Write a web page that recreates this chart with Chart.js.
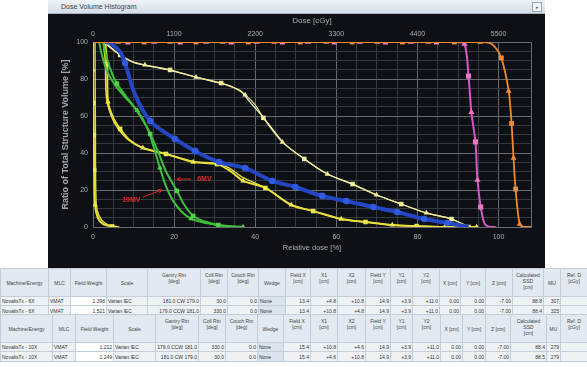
<!DOCTYPE html>
<html>
<head>
<meta charset="utf-8">
<script src="https://cdn.jsdelivr.net/npm/chart.js@4.4.1/dist/chart.umd.min.js"></script>
<style>
body{margin:0;width:587px;height:367px;background:#fff;position:relative;overflow:hidden;font-family:"Liberation Sans",Arial,sans-serif}
#win{position:absolute;left:48px;top:0;width:497px;height:268px;background:#0d1115}
#bar{position:absolute;left:0;top:0;width:497px;height:14px;background:linear-gradient(#eef3f7,#d4dee7);border-bottom:1px solid #a8b5c1;box-sizing:border-box;font-size:7px;color:#3a4550;line-height:13px;padding-left:13px}
#btn{position:absolute;right:3px;top:2px;width:8px;height:8px;border:1px solid #98a5b1;background:#f3f6f9;font-size:5px;line-height:8px;text-align:center;color:#56606a}
#cv{position:absolute;left:0;top:14px}
table{position:absolute;left:0;border-collapse:collapse;table-layout:fixed;font-size:5px;color:#333;width:587px}
td{border:1px solid #c3ced8;padding:0 1px;overflow:hidden;white-space:nowrap;background:#eef2f5}
td.h{background:#e2e9f0;text-align:center;vertical-align:middle;color:#444;line-height:6px}
td.h.m{vertical-align:top;padding-top:3px}
td.r{text-align:right}
td.w{background:#fff}
td.g{background:#d9e4ee}
</style>
</head>
<body>
<div id="win">
  <div id="bar">Dose Volume Histogram<div id="btn">&#9656;</div></div>
  <canvas id="cv" width="497" height="254"></canvas>
</div>
<table id="t1" style="top:268px"></table>
<table id="t2" style="top:314px"></table>
<script>
// DVH curves: x = relative dose [%], y = volume [%], marks: s square, t triangle, c circle
const orangeX = [0, 6.2, 12.6, 19, 25.4, 31.9, 38.3, 44.7, 51.1, 57.5, 63.9, 70.1, 76.3, 82.7, 89.1, 95.5, 97.8, 99.2, 100.7, 102.5, 103.2, 103.7, 104.2, 105.2, 106.2, 108];
const orangeY = [100, 100, 100, 100, 100, 100, 100, 100, 100, 100, 100, 100, 100, 100, 100, 100, 99.5, 97, 91.4, 73.5, 56, 37.3, 20.5, 1.6, 0, 0];
const orangeM = ['', 't', 's', 't', 's', 't', 's', 't', 's', 't', 's', 't', 's', 't', 's', 't', '', '', 's', 't', 's', 't', 's', 't', '', ''];

const magentaX = [0, 8.6, 15.1, 21.5, 27.9, 34.1, 40.4, 46.7, 53, 59.5, 65.8, 72.1, 78.4, 84.7, 89.5, 91.6, 92.6, 93.3, 94.3, 94.8, 95.6, 96.5, 97.5, 99.3];
const magentaY = [100, 100, 100, 100, 100, 100, 100, 100, 100, 100, 100, 100, 100, 100, 100, 99, 81.6, 62, 46, 25.4, 10.8, 2, 0.3, 0];
const magentaM = ['', 's', 't', 's', 't', 's', 't', 's', 't', 's', 't', 's', 't', 's', '', 't', 's', 't', 's', 't', 's', '', '', ''];

const blueX = [3, 4.2, 6.7, 7.9, 10.4, 14.1, 20.2, 25.2, 31.1, 37.5, 44.2, 49.9, 56.5, 62.5, 69.1, 75, 81.7, 87.4, 92.6];
const blueY = [100, 99.5, 94.6, 88.6, 71.4, 57.3, 47.6, 41, 35.1, 31.9, 24.9, 21.6, 16.8, 14, 10.8, 8.1, 4.3, 2.2, 0];
const blueM = ['', '', '', 'c', '', 'c', 'c', 'c', 'c', 'c', 'c', 'c', 'c', 'c', 'c', 'c', 'c', 'c', ''];

const green6X = [2.5, 3.2, 4.5, 5.9, 8, 10.4, 12.5, 14.1, 16, 18, 20.7, 22.5, 24.7, 27.5, 30.9, 34, 37];
const green6Y = [100, 93, 84, 77.5, 71, 64, 57, 50.3, 41, 30, 19.5, 12, 6, 3, 1.1, 0.4, 0];
const green6M = ['', '', '', 's', '', '', '', 's', '', '', 's', '', 's', '', 's', '', ''];

const green10X = [1.5, 2.2, 3.5, 5.5, 8, 10.9, 13.5, 15, 16.5, 18, 19.8, 22, 24.2, 27, 30.9, 34, 37];
const green10Y = [100, 93, 84, 76.5, 70, 63, 53, 43, 31.9, 22, 14, 8, 4.5, 2.5, 1, 0.3, 0];
const green10M = ['', '', '', '', '', 't', '', '', 't', '', '', '', 't', '', '', '', 't'];

const yellowBX = [2.5, 4.5, 6.7, 9.5, 12.8, 19, 25.4, 31.6, 35, 37.5, 40, 42, 46.7, 52.1, 57.8, 64, 69.9, 76, 82.2, 88.4, 92.6];
const yellowBY = [100, 96.5, 93, 89.5, 87.6, 84.9, 81, 77.8, 75, 71.4, 66, 59, 45.9, 36.8, 28.6, 23.2, 17.3, 12.4, 7.6, 4.3, 0];
const yellowBM = ['', '', 's', '', 't', 's', 't', 's', '', 't', '', 's', 't', 's', 't', 's', 't', 's', 't', 's', ''];

const yellowB2X = [3, 5, 7, 10, 13, 19, 25.4, 31.6, 34, 36.5, 38.3, 40.5, 42.3, 47, 52.1, 57.8, 64, 70, 76, 82.2, 88.4, 92.6];
const yellowB2Y = [100, 96, 92.6, 89, 87.4, 84.7, 81, 77.6, 76, 73.5, 68.6, 63, 58.5, 45.5, 36.8, 28.6, 23.2, 17.3, 12.4, 7.6, 4.3, 0];

const yellowCX = [3, 3.5, 3.7, 5, 6.7, 9, 12.3, 18, 24.7, 30.6, 34, 37, 42.5, 48.9, 54.3, 61.2, 67.2, 73.8, 79.8, 86.7, 92.6, 94.6];
const yellowCY = [100, 88, 67.6, 59, 53, 47, 42.7, 39.5, 35.1, 34, 30, 24.9, 21.1, 11.9, 8.6, 4.3, 2.7, 1.1, 0.5, 0, 0, 0];
const yellowCM = ['', 's', 't', '', 's', '', 't', 's', 't', 's', '', 't', 's', 't', 's', 't', 's', 't', 's', 't', 's', 't'];

const yellowC2X = [2.5, 3, 3.3, 4.5, 6.2, 8.5, 12, 18, 24.7, 30.6, 33.5, 36.8, 42.5, 49, 54.3, 61.2, 67.2, 73.8, 80, 87, 94.6];
const yellowC2Y = [100, 90, 70, 60, 53, 47.5, 43, 39.5, 35.5, 34.2, 32, 27, 21.1, 12, 8.6, 4.3, 2.7, 1.1, 0.5, 0, 0];

const yellowAX = [0, 0, 0.1, 0.2, 0.3, 0.5, 1.2, 2.5, 4.7, 6];
const yellowAY = [100, 84.9, 67, 49.7, 30.8, 11.9, 5, 1.5, 0.3, 0];
const yellowAM = ['', 't', 's', 's', 's', 't', '', '', 's', ''];

const yellowA2X = [0.5, 0.6, 0.8, 1.5, 3, 5, 6.5];
const yellowA2Y = [100, 50, 12, 6, 2, 0.5, 0];

const relTicks = [0, 20, 40, 60, 80, 100];
const doseTicks = [0, 1100, 2200, 3300, 4400, 5500];

// tables below the chart
const headers = ["Machine/Energy", "MLC", "Field Weight", "Scale", "Gantry Rtn<br>[deg]", "Coll Rtn<br>[deg]", "Couch Rtn<br>[deg]", "Wedge", "Field X<br>[cm]", "X1<br>[cm]", "X2<br>[cm]", "Field Y<br>[cm]", "Y1<br>[cm]", "Y2<br>[cm]", "X [cm]", "Y [cm]", "Z [cm]", "Calculated<br>SSD<br>[cm]", "MU", "Ref. D<br>[cGy]"];
const rows6 = [
  ["NovalisTx - 6X", "VMAT", "1.398", "Varian IEC", "181.0 CW 179.0", "30.0", "0.0", "None", "13.4", "+4.8", "+10.8", "14.9", "+3.9", "+11.0", "0.00", "0.00", "-7.00", "88.8", "307", ""],
  ["NovalisTx - 6X", "VMAT", "1.521", "Varian IEC", "179.0 CCW 181.0", "330.0", "0.0", "None", "13.4", "+10.8", "+4.8", "14.9", "+3.9", "+11.0", "0.00", "0.00", "-7.00", "88.4", "325", ""]
];
const rows10 = [
  ["NovalisTx - 10X", "VMAT", "1.212", "Varian IEC", "179.0 CCW 181.0", "330.0", "0.0", "None", "15.4", "+10.8", "+4.6", "14.9", "+3.9", "+11.0", "0.00", "0.00", "-7.00", "88.4", "279", ""],
  ["NovalisTx - 10X", "VMAT", "1.249", "Varian IEC", "181.0 CW 179.0", "30.0", "0.0", "None", "15.4", "+4.6", "+10.8", "14.9", "+3.9", "+11.0", "0.00", "0.00", "-7.00", "88.5", "279", ""]
];

function buildTable(id, widths, rows) {
  const t = document.getElementById(id);
  let html = '<colgroup>' + widths.map(w => '<col style="width:' + w + 'px">').join('') + '</colgroup>';
  html += '<tr style="height:28px">' + headers.map(h => '<td class="h' + (h.includes('<br>') ? ' m' : '') + '">' + h + '</td>').join('') + '</tr>';
  rows.forEach((r, ri) => {
    html += '<tr style="height:' + (ri ? 10 : 9) + 'px">' + r.map((v, i) => {
      let c = [0, 1, 3, 7].includes(i) ? '' : 'r';
      if (i === 2) c += ' w';
      if (i === 7) c += ' g';
      return '<td class="' + c + '">' + v + '</td>';
    }).join('') + '</tr>';
  });
  t.innerHTML = html;
}
buildTable('t1', [48, 22, 36, 41, 53, 27, 31, 27, 25, 27, 28, 25, 22, 27, 21, 25, 27, 31, 17, 27], rows6);
buildTable('t2', [52, 23, 38, 42, 43, 27, 32, 26, 27, 27, 28, 25, 22, 28, 22, 23, 25, 36, 14, 27], rows10);

function series(xs, ys, marks, color, width, markColor, r) {
  marks = marks || [];
  return {
    data: xs.map((x, i) => ({ x: x, y: ys[i] })),
    borderColor: color,
    borderWidth: width,
    pointBackgroundColor: markColor,
    pointBorderColor: markColor,
    pointBorderWidth: 0,
    pointStyle: xs.map((x, i) => marks[i] === 's' ? 'rect' : marks[i] === 't' ? 'triangle' : 'circle'),
    pointRadius: xs.map((x, i) => marks[i] ? r : 0),
    tension: 0.3,
    fill: false
  };
}

const notes = [
  { text: '6MV', at: [25.7, 25.9], from: [24.2, 25.9], to: [20.7, 25.9] },
  { text: '10MV', at: [7.2, 14.6], from: [12.3, 16.2], to: [17, 20] }
];
const redNotes = {
  id: 'redNotes',
  afterDatasetsDraw(chart) {
    const { ctx, scales: { x, y } } = chart;
    ctx.save();
    ctx.fillStyle = ctx.strokeStyle = '#e3262a';
    ctx.lineWidth = 1;
    ctx.font = 'bold 7px "Liberation Sans"';
    ctx.textBaseline = 'middle';
    notes.forEach(n => {
      ctx.fillText(n.text, x.getPixelForValue(n.at[0]), y.getPixelForValue(n.at[1]));
      const x0 = x.getPixelForValue(n.from[0]), y0 = y.getPixelForValue(n.from[1]);
      const x1 = x.getPixelForValue(n.to[0]), y1 = y.getPixelForValue(n.to[1]);
      const a = Math.atan2(y1 - y0, x1 - x0);
      ctx.beginPath();
      ctx.moveTo(x0, y0); ctx.lineTo(x1, y1);
      ctx.moveTo(x1 - 4 * Math.cos(a - 0.5), y1 - 4 * Math.sin(a - 0.5));
      ctx.lineTo(x1, y1);
      ctx.lineTo(x1 - 4 * Math.cos(a + 0.5), y1 - 4 * Math.sin(a + 0.5));
      ctx.stroke();
    });
    ctx.restore();
  }
};

const gridColor = c => (c.tick && (c.tick.value % 20 === 0 || c.tick.value === 108)) ? '#686c71' : '#363a3f';
const tickFont = { family: 'Liberation Sans', size: 7 };

new Chart(document.getElementById('cv'), {
  type: 'line',
  data: {
    datasets: [
      series(orangeX, orangeY, orangeM, '#ef8a2e', 1.8, '#f28a3c', 3.4),
      series(magentaX, magentaY, magentaM, '#d556c6', 2, '#ee78c0', 3.6),
      series(blueX, blueY, blueM, '#2446c4', 4, '#2f5ae2', 3.3),
      series(green6X, green6Y, green6M, '#3fbf3c', 2, '#52d34a', 3.2),
      series(green10X, green10Y, green10M, '#3fbf3c', 2, '#52d34a', 3.2),
      series(yellowBX, yellowBY, yellowBM, '#eee88e', 1.2, '#f1eca0', 3.2),
      series(yellowB2X, yellowB2Y, null, '#fbf8da', 1.2, '#fbf8da', 0),
      series(yellowCX, yellowCY, yellowCM, '#e9e03a', 2, '#efe655', 3.2),
      series(yellowC2X, yellowC2Y, null, '#e3da4c', 1.4, '#e3da4c', 0),
      series(yellowAX, yellowAY, yellowAM, '#e9e03a', 2, '#efe655', 3.2),
      series(yellowA2X, yellowA2Y, null, '#e3da4c', 1.4, '#e3da4c', 0)
    ]
  },
  options: {
    responsive: false,
    devicePixelRatio: 1,
    animation: false,
    layout: { padding: { left: 0, right: 14, top: 0, bottom: 0 } },
    plugins: { legend: { display: false }, tooltip: { enabled: false } },
    scales: {
      x: {
        type: 'linear', position: 'bottom', min: 0, max: 108,
        afterFit: s => { s.height = 41; },
        ticks: { stepSize: 5, autoSkip: false, maxRotation: 0, padding: 6, color: '#a9adb1', font: tickFont,
          callback: v => relTicks.includes(v) ? v : '' },
        grid: { color: gridColor, drawTicks: false },
        border: { color: '#686c71' },
        title: { display: true, text: 'Relative dose [%]', color: '#a9adb1', font: { family: 'Liberation Sans', size: 7.5 }, padding: { bottom: 15.5 } }
      },
      x2: {
        type: 'linear', position: 'top', min: 0, max: 5940,
        afterFit: s => { s.height = 28; },
        afterBuildTicks: s => { s.ticks = doseTicks.map(v => ({ value: v })); },
        ticks: { autoSkip: false, maxRotation: 0, padding: -4, color: '#a9adb1', font: tickFont,
          callback: v => String(v) },
        grid: { display: false },
        border: { display: false },
        title: { display: true, text: 'Dose [cGy]', color: '#a9adb1', font: { family: 'Liberation Sans', size: 8 }, padding: { top: 1.5 } }
      },
      y: {
        min: 0, max: 100,
        afterFit: s => { s.width = 45; },
        ticks: { stepSize: 5, autoSkip: false, padding: 5, color: '#a9adb1', font: tickFont,
          callback: v => relTicks.includes(v) ? v : '' },
        grid: { color: gridColor, drawTicks: false },
        border: { color: '#686c71' },
        title: { display: true, text: 'Ratio of Total Structure Volume [%]', color: '#a3a7ab', font: { family: 'Liberation Sans', size: 9, weight: 'bold' }, padding: { top: 12.6 } }
      }
    }
  },
  plugins: [redNotes]
});
</script>
</body>
</html>
